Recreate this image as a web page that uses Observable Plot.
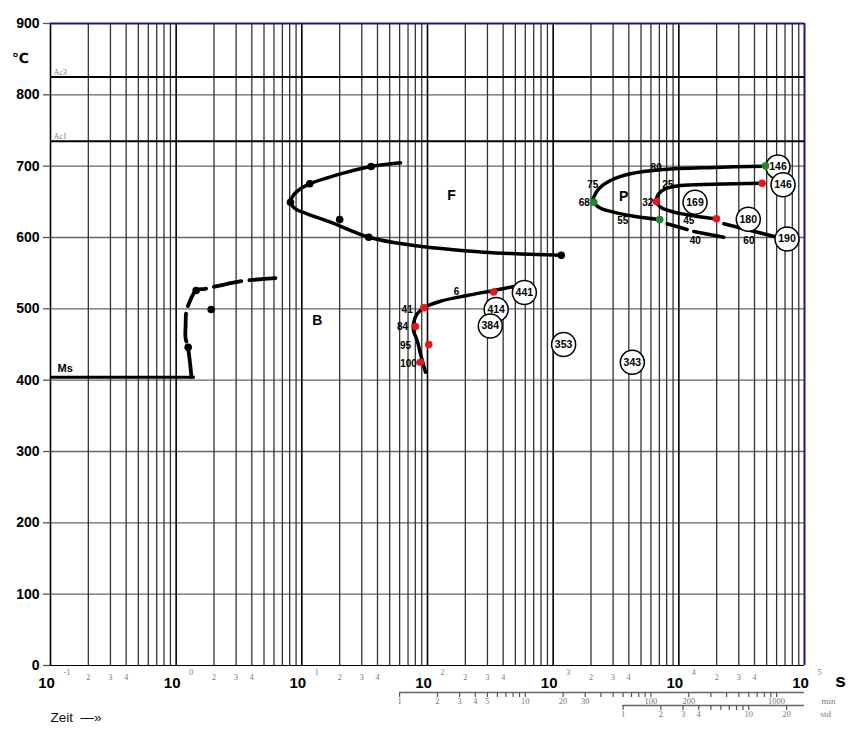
<!DOCTYPE html>
<html><head><meta charset="utf-8">
<script src="https://cdn.jsdelivr.net/npm/d3@7"></script>
<script src="https://cdn.jsdelivr.net/npm/@observablehq/plot@0.6"></script>
<style>
html,body{margin:0;padding:0;background:#fff;}
#chart svg{display:block;}
</style>
</head><body><div id="chart"></div>
<script>
// ---- axis data ----
const decadeExps = [-1, 0, 1, 2, 3, 4, 5];
const minorDigits = [2, 3, 4];
const yTicks = [0, 100, 200, 300, 400, 500, 600, 700, 800, 900];
const acLines = [{name: "Ac3", T: 825}, {name: "Ac1", T: 735}];
const msLine = {T: 404, tEnd: 1.42};
const minTicks = [1,2,3,4,5,6,7,8,9,10,20,30,40,50,60,70,80,90,100,200,300,400,500,600,700,800,900,1000];
const minLabels = [1,2,3,4,5,10,20,30,100,200,1000];
const stdTicks = [1,2,3,4,5,6,7,8,9,10,20];
const stdLabels = [1,2,3,4,10,20];

// ---- curves (time s, temperature °C) ----
const ferriteCurve = [[61.0,704.7],[35.6,699.5],[22.96,691.6],[11.56,675.3],[9.75,668.3],[8.63,659.9],[8.12,649.5],[8.90,640.2],[11.03,633.2],[16.92,621.5],[34.1,600.4],[70.9,589.8],[280,579.4],[550,577],[1160,575]];
const ferriteDots = [[35.6,699.5],[11.56,675.3],[8.12,649.5],[20.0,625.2],[34.1,600.4],[1160,575]];
const bainiteCurve = [[1.324,404.2],[1.246,444],[1.186,460.2],[1.19,478],[1.202,495.3],[1.26,507],[1.442,525.7],[1.71,528.1],[3.147,538.3],[6.17,543]];
const bainiteDots = [[1.246,446],[1.442,525.7],[1.90,499]];
const lowerCurve = [[96.4,411.2],[87.9,437],[82.8,455.6],[77.3,469.6],[77.8,481.3],[82.8,493],[93.5,501.5],[126.9,510.7],[207,518.7],[336.5,525.7],[532,532.7]];
const lowerRedDots = [[93.5,501.5],[80.2,475.3],[102.4,450],[87.9,425.2],[336.5,523.7]];
const lowerLabels = [{t:68.9,T:498.7,s:"41"},{t:63.2,T:474.5,s:"84"},{t:66.8,T:448.2,s:"95"},{t:70.7,T:423.4,s:"100"},{t:170,T:523.3,s:"6"}];

const pOuter = [[48960,700],[18970,698.2],[7590,695.3],[4120,689.3],[2856,679.9],[2306,668.3],[2104,656.5],[2075,651.9],[2306,642.5],[3034,635.5],[4382,629.9],[7046,625.2]];
const pOuterDashes = [[[8070,619.2],[11640,611.2]], [[13140,608.4],[22800,600.4]]];
const pInner = [[46000,676.1],[18970,674.7],[10300,672.9],[7830,668.3],[6920,661.3],[6640,650.5],[7140,642.5],[9120,635.5],[14000,629.5],[19950,626.2]];
const pInnerDashes = [[[22800,619.2],[60700,600.4]]];
const pGreenDots = [[48960,700.4],[2104,649.5],[7046,625.2]];
const pRedDots = [[46000,676.1],[6640,650.5],[19950,626.2]];
const pLabels = [{t:6600,T:697.5,s:"80"},{t:2070,T:674,s:"75"},{t:1770,T:648.7,s:"68"},{t:3580,T:622.9,s:"55"},{t:13500,T:596,s:"40"},
                 {t:8170,T:674,s:"25"},{t:5660,T:648.7,s:"32"},{t:12000,T:622.9,s:"45"},{t:36100,T:596,s:"60"}];
const regionLabels = [{t:155,T:659,s:"F"},{t:13.3,T:484,s:"B"},{t:3640,T:657.5,s:"P"}];
const hardness = [{t:590,T:523,v:441},{t:352,T:499,v:414},{t:316,T:476,v:384},{t:1211,T:450,v:353},{t:4266,T:425,v:343},
                  {t:61500,T:699,v:146},{t:67500,T:674,v:146},{t:13460,T:649.5,v:169},{t:35700,T:625.5,v:180},{t:72600,T:598,v:190}];

// ---- derived grid values ----
const decades = decadeExps.map(k => Math.pow(10, k));
const minors = [];
decadeExps.slice(0, -1).forEach(k => { for (let m = 2; m <= 9; m++) minors.push(m * Math.pow(10, k)); });
const minorLab = [];
decadeExps.slice(0, -1).forEach(k => minorDigits.forEach(m => minorLab.push({t: m * Math.pow(10, k), s: String(m)})));
const flat = (segs) => segs.flatMap((seg, i) => seg.map(p => ({t: p[0], T: p[1], z: i})));

const SANS = "Liberation Sans, Arial, sans-serif";
const SERIF = "Liberation Serif, Times New Roman, serif";
const RED = "#e8161b", GREEN = "#1e8b2a", NAVY = "#1a1a7a";

const chart = Plot.plot({
  width: 854, height: 730,
  marginLeft: 50, marginRight: 50, marginTop: 23, marginBottom: 65,
  x: {type: "log", domain: [0.1, 1e5], axis: null},
  y: {domain: [0, 900], axis: null},
  style: {fontFamily: SANS, background: "#fff", overflow: "visible"},
  marks: [
    // grid
    Plot.ruleY(yTicks.filter(d => d > 0 && d < 900), {stroke: "#666", strokeWidth: 1.4}),
    Plot.ruleX(minors, {stroke: "#333", strokeWidth: 1.3}),
    Plot.ruleX(decades.slice(0, -1), {stroke: "#000", strokeWidth: 1.6}),
    Plot.ruleX([1e5], {stroke: NAVY, strokeWidth: 2}),
    Plot.ruleY([900], {stroke: NAVY, strokeWidth: 2}),
    Plot.ruleY([0], {stroke: "#000", strokeWidth: 1.2}),
    // y axis
    Plot.ruleY(yTicks, {x1: 0.088, x2: 0.1, stroke: "#555", strokeWidth: 1.3}),
    Plot.text(yTicks, {x: 0.1, y: d => d, dx: -11, textAnchor: "end", fontWeight: "bold", fontSize: 14, fill: "#000"}),
    Plot.text(["℃"], {x: 0.1, y: 900, dx: -30, dy: 35, fontSize: 14, fontWeight: "bold", fontFamily: "DejaVu Sans, sans-serif", fill: "#000"}),
    // x axis labels
    Plot.text(decades, {x: d => d, y: 0, dx: -4, dy: 18, text: () => "10", fontWeight: "bold", fontSize: 15, fill: "#000"}),
    Plot.text(decadeExps, {x: k => Math.pow(10, k), y: 0, dx: 13, dy: 7, text: k => String(k), textAnchor: "start", fontSize: 8, fontFamily: SERIF, fill: "#777"}),
    Plot.text(minorLab, {x: "t", y: 0, dy: 12, text: "s", fontSize: 8, fontFamily: SERIF, fill: "#777"}),
    Plot.text(["s"], {x: 1e5, y: 0, dx: 36, dy: 15, fontWeight: "bold", fontSize: 19, fill: "#000"}),
    // min axis
    Plot.ruleY([0], {x1: 60, x2: 1e5, dy: 27, stroke: "#666", strokeWidth: 1.5}),
    Plot.ruleX(minTicks, {x: d => d * 60, y1: 0, y2: 0, insetBottom: -5, dy: 27, stroke: "#555", strokeWidth: 1.2}),
    Plot.text(minLabels, {x: d => d * 60, y: 0, dy: 36, text: d => String(d), fontSize: 8.5, fontFamily: SERIF, fill: "#777"}),
    Plot.text(["min"], {x: 1e5, y: 0, dx: 17, dy: 36, textAnchor: "start", fontSize: 9, fontFamily: SERIF, fill: "#777"}),
    // std axis
    Plot.ruleY([0], {x1: 3600, x2: 1e5, dy: 40, stroke: "#666", strokeWidth: 1.5}),
    Plot.ruleX(stdTicks, {x: d => d * 3600, y1: 0, y2: 0, insetBottom: -5, dy: 40, stroke: "#555", strokeWidth: 1.2}),
    Plot.text(stdLabels, {x: d => d * 3600, y: 0, dy: 48.5, text: d => String(d), fontSize: 8.5, fontFamily: SERIF, fill: "#777"}),
    Plot.text(["std"], {x: 1e5, y: 0, dx: 16, dy: 48.5, textAnchor: "start", fontSize: 9, fontFamily: SERIF, fill: "#777"}),
    Plot.text(["Zeit  —»"], {x: 0.1, y: 0, dy: 52, textAnchor: "start", fontSize: 13.5, fill: "#111"}),
    // Ac lines
    Plot.ruleY(acLines, {y: "T", stroke: "#000", strokeWidth: 2}),
    Plot.text(acLines, {x: 0.1, y: "T", dx: 3, dy: -5, text: "name", textAnchor: "start", fontSize: 8, fontFamily: SERIF, fill: "#777"}),
    // Ms
    Plot.ruleY([msLine], {x1: 0.1, x2: "tEnd", y: "T", stroke: "#000", strokeWidth: 3}),
    Plot.text(["Ms"], {x: 0.1, y: msLine.T, dx: 7, dy: -9, textAnchor: "start", fontWeight: "bold", fontSize: 11, fill: "#000"}),
    // curves
    Plot.line(ferriteCurve, {x: d => d[0], y: d => d[1], curve: "catmull-rom", stroke: "#000", strokeWidth: 3.5}),
    Plot.line(bainiteCurve, {x: d => d[0], y: d => d[1], curve: "catmull-rom", stroke: "#000", strokeWidth: 3.8, strokeDasharray: "28,8"}),
    Plot.line(lowerCurve, {x: d => d[0], y: d => d[1], curve: "catmull-rom", stroke: "#000", strokeWidth: 3.5}),
    Plot.line(pOuter, {x: d => d[0], y: d => d[1], curve: "catmull-rom", stroke: "#000", strokeWidth: 3.5}),
    Plot.line(pInner, {x: d => d[0], y: d => d[1], curve: "catmull-rom", stroke: "#000", strokeWidth: 3.5}),
    Plot.line(flat(pOuterDashes), {x: "t", y: "T", z: "z", stroke: "#000", strokeWidth: 3.5}),
    Plot.line(flat(pInnerDashes), {x: "t", y: "T", z: "z", stroke: "#000", strokeWidth: 3.5}),
    // hardness circles
    Plot.dot(hardness, {x: "t", y: "T", r: 12, fill: "#fff", stroke: "#000", strokeWidth: 1.5}),
    Plot.text(hardness, {x: "t", y: "T", text: d => String(d.v), fontWeight: "bold", fontSize: 10.5, fill: "#000"}),
    // dots
    Plot.dot(ferriteDots, {x: d => d[0], y: d => d[1], r: 3.8, fill: "#000"}),
    Plot.dot(bainiteDots, {x: d => d[0], y: d => d[1], r: 3.8, fill: "#000"}),
    Plot.dot(lowerRedDots, {x: d => d[0], y: d => d[1], r: 3.8, fill: RED}),
    Plot.dot(pRedDots, {x: d => d[0], y: d => d[1], r: 3.8, fill: RED}),
    Plot.dot(pGreenDots, {x: d => d[0], y: d => d[1], r: 3.8, fill: GREEN}),
    // labels
    Plot.text(lowerLabels, {x: "t", y: "T", text: "s", fontWeight: "bold", fontSize: 10, fill: "#000"}),
    Plot.text(pLabels, {x: "t", y: "T", text: "s", fontWeight: "bold", fontSize: 10, fill: "#000"}),
    Plot.text(regionLabels, {x: "t", y: "T", text: "s", fontWeight: "bold", fontSize: 14, fill: "#000"})
  ]
});
document.getElementById("chart").appendChild(chart);
</script>
</body></html>
